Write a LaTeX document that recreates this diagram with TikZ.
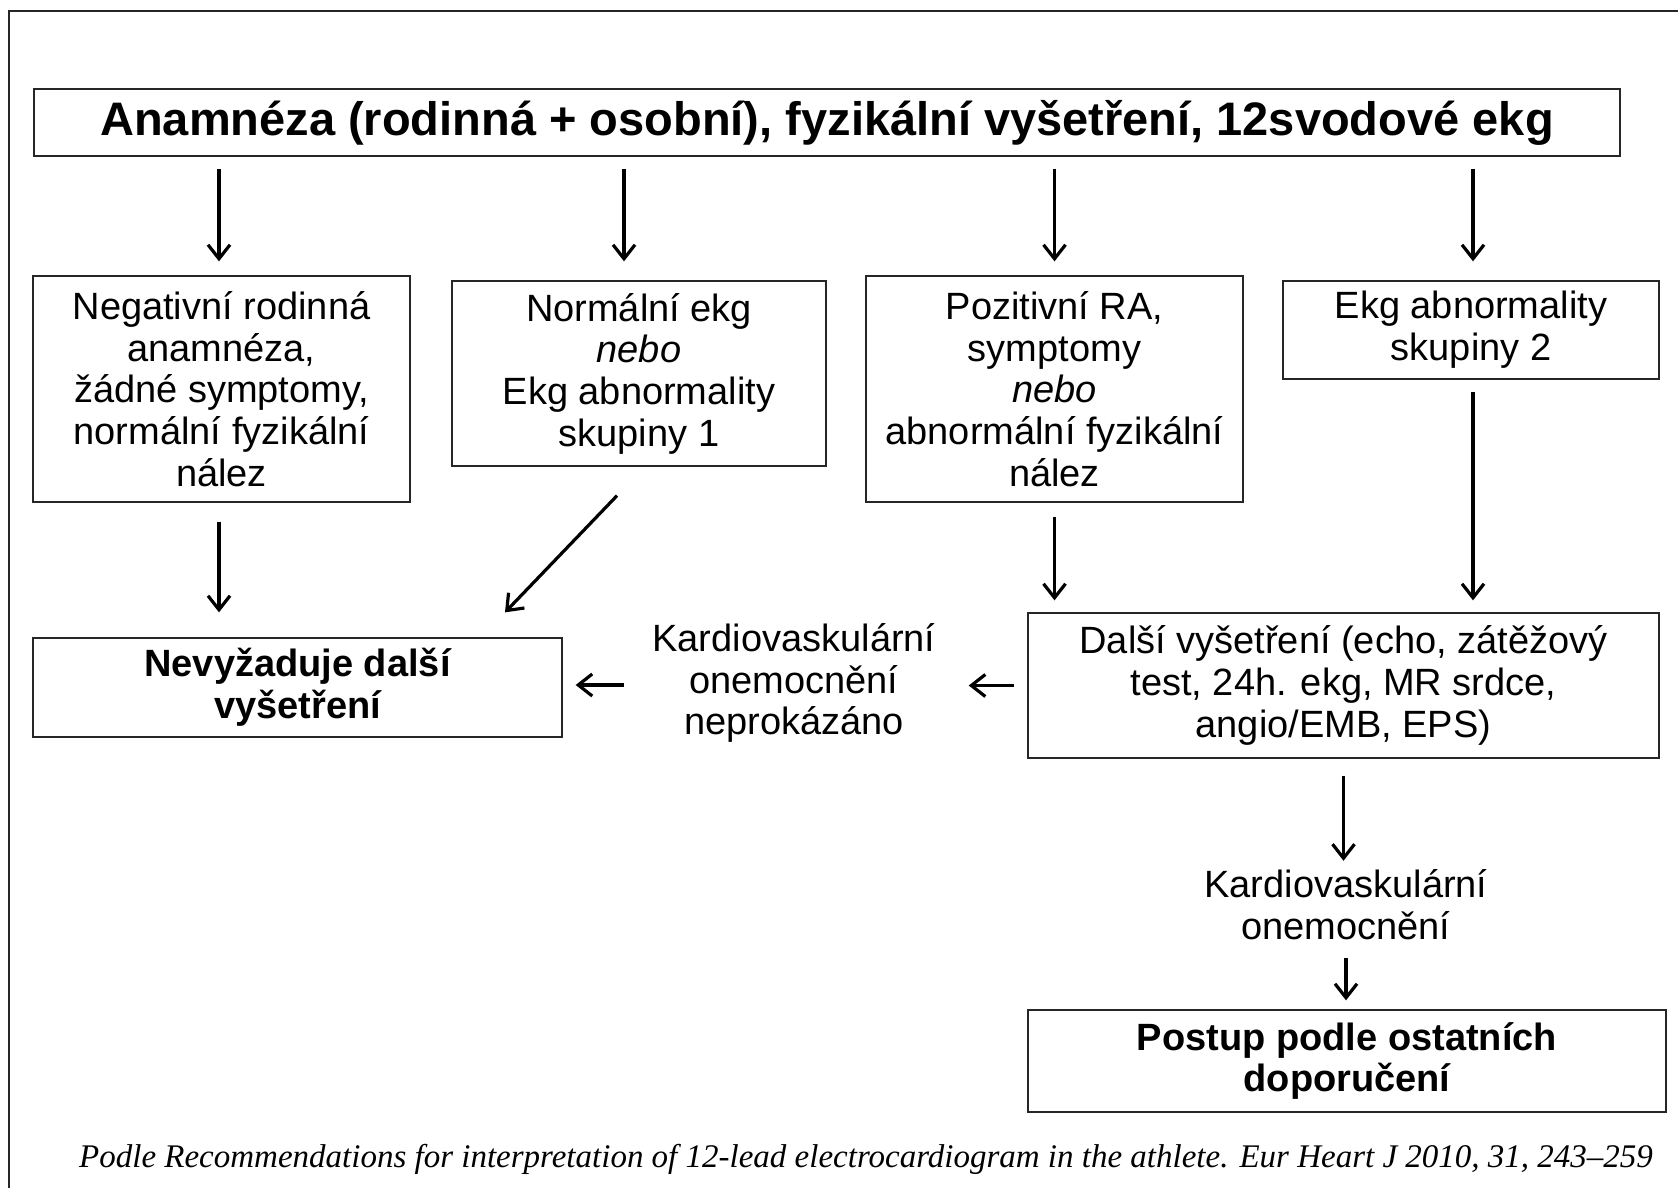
\documentclass[tikz,border=0pt]{standalone}
\usepackage{fontspec}
\setmainfont{Liberation Sans}
\newfontfamily\capfont{Liberation Serif}
\usetikzlibrary{arrows.meta}
\begin{document}
\begin{tikzpicture}[x=1pt,y=-1pt,
  box/.style={draw=black!85, line width=1.3pt, rectangle, inner sep=0pt, align=center,
    font=\fontsize{38}{41.7}\selectfont},
  plain/.style={inner sep=0pt, align=center, font=\fontsize{38}{41.7}\selectfont},
  bbox/.style={box, font=\fontsize{38}{41.7}\selectfont\bfseries},
  arr/.style={line width=3.2pt, -{Straight Barb[length=14pt,width=22pt,line width=3.2pt]}}]
\useasboundingbox (0,0) rectangle (1678,1188);
\fill[white] (0,0) rectangle (1678,1188);
\draw[line width=2pt, black!85] (9,1188) -- (9,11) -- (1678,11);

\node[box, minimum width=1586pt, minimum height=67pt, font=\fontsize{47}{50}\selectfont\bfseries] (top) at (827,122.5)
  {Anamnéza (rodinná + osobní), fyzikální vyšetření, 12svodové ekg};
\node[box, minimum width=377pt, minimum height=226pt] (b1) at (221.5,389)
  {Negativní rodinná\\anamnéza,\\žádné symptomy,\\normální fyzikální\\nález};
\node[box, minimum width=374pt, minimum height=185pt] (b2) at (639,373.5)
  {Normální ekg\\\textit{nebo}\\Ekg abnormality\\skupiny 1};
\node[box, minimum width=377pt, minimum height=226pt] (b3) at (1054.5,389)
  {Pozitivní RA,\\symptomy\\\textit{nebo}\\abnormální fyzikální\\nález};
\node[box, minimum width=376pt, minimum height=98pt] (b4) at (1471,330)
  {Ekg abnormality\\skupiny 2};
\node[bbox, minimum width=529pt, minimum height=99pt] (nev) at (297.5,687.5)
  {Nevyžaduje další\\vyšetření};
\node[box, minimum width=631pt, minimum height=145pt] (dal) at (1343.5,685.5)
  {Další vyšetření (echo, zátěžový\\test, 24h. ekg, MR srdce,\\angio/EMB, EPS)};
\node[bbox, minimum width=638pt, minimum height=102pt] (post) at (1347,1061)
  {Postup podle ostatních\\doporučení};
\node[plain] (kn) at (794,683) {Kardiovaskulární\\onemocnění\\neprokázáno};
\node[plain] (kv) at (1346,905) {Kardiovaskulární\\onemocnění};
\node[inner sep=0pt, font=\capfont\itshape\fontsize{33}{36}\selectfont] (cap) at (866,1159)
  {Podle Recommendations for interpretation of 12-lead electrocardiogram in the athlete. Eur Heart J 2010, 31, 243–259};

\draw[arr, shorten <=12pt, shorten >=14pt] ([xshift=-2.5pt]b1.north |- top.south) -- ([xshift=-2.5pt]b1.north);
\draw[arr, shorten <=12pt, shorten >=19pt] ([xshift=-15pt]b2.north |- top.south) -- ([xshift=-15pt]b2.north);
\draw[arr, shorten <=12pt, shorten >=14pt] (b3.north |- top.south) -- (b3.north);
\draw[arr, shorten <=12pt, shorten >=19pt] ([xshift=2pt]b4.north |- top.south) -- ([xshift=2pt]b4.north);

\draw[arr, shorten <=19pt, shorten >=25pt] ([xshift=-2.5pt]b1.south) -- ([xshift=-2.5pt]b1.south |- nev.north);
\draw[arr] ([shift={(-22,29)}]b2.south) -- ([shift={(207.5,-25)}]nev.north);
\draw[arr, shorten <=14pt, shorten >=12pt] (b3.south) -- (b3.south |- dal.north);
\draw[arr, shorten <=12pt, shorten >=12pt] ([xshift=2pt]b4.south) -- ([xshift=2pt]b4.south |- dal.north);

\draw[arr, shorten <=13pt, shorten >=33pt] (dal.west) -- (dal.west -| kn.east);
\draw[arr, shorten <=28pt, shorten >=13pt] ([yshift=2.5pt]nev.east -| kn.west) -- ([yshift=2.5pt]nev.east);
\draw[arr, shorten <=17pt, shorten >=9pt] (dal.south) -- (dal.south |- kv.north);
\draw[arr, shorten <=18pt, shorten >=9pt] (kv.south) -- (kv.south |- post.north);
\end{tikzpicture}
\end{document}
